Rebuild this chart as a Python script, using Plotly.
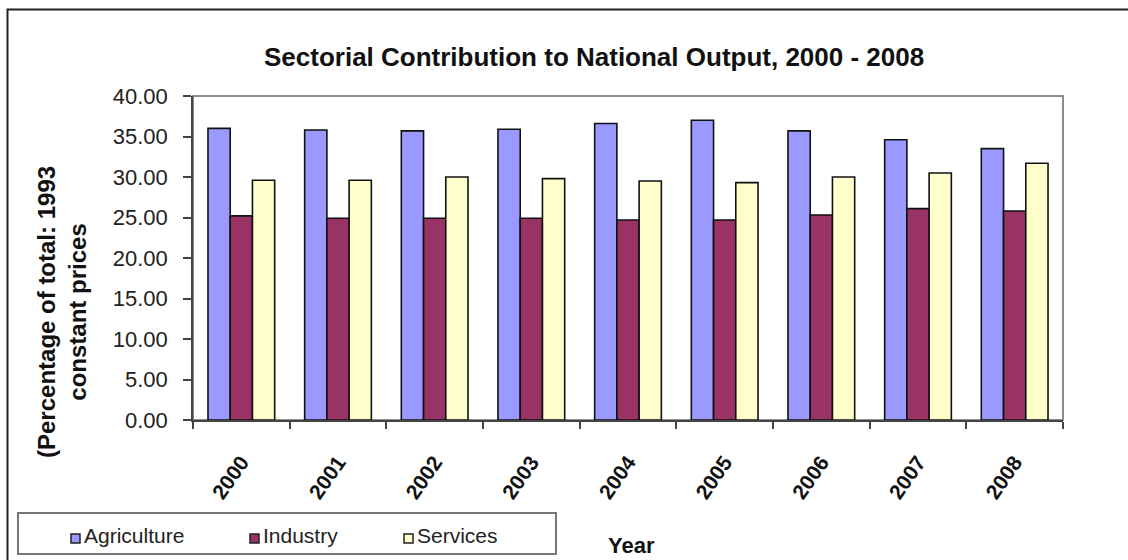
import plotly.graph_objects as go

# Sector shares of national output (% of total, 1993 constant prices)
years = ["2000", "2001", "2002", "2003", "2004", "2005", "2006", "2007", "2008"]
agriculture = [36.0, 35.8, 35.7, 35.9, 36.6, 37.0, 35.7, 34.6, 33.5]
industry = [25.2, 24.9, 24.9, 24.9, 24.7, 24.7, 25.3, 26.1, 25.8]
services = [29.6, 29.6, 30.0, 29.8, 29.5, 29.3, 30.0, 30.5, 31.7]

sectors = ["Agriculture", "Industry", "Services"]
colors = ["#9999FF", "#993366", "#FFFFCC"]
y_ticks = [0, 5, 10, 15, 20, 25, 30, 35, 40]

W, H = 1128, 560
L, R, T, B = 193, 65, 96, 140
PW, PH = W - L - R, H - T - B


def px_x(px):
    return (px - L) / PW


def px_y(py):
    return (H - B - py) / PH


FONT = "Liberation Sans, Arial, sans-serif"
EDGE = dict(color="#111111", width=1.6)

fig = go.Figure()
for name, vals, col in zip(sectors, [agriculture, industry, services], colors):
    fig.add_trace(go.Bar(name=name, x=years, y=vals,
                         marker=dict(color=col, line=EDGE)))

shapes = [
    # gray border of the plotting area
    dict(type="rect", xref="paper", yref="paper", x0=0, x1=1, y0=0, y1=1,
         line=dict(color="#8c8c8c", width=2), layer="below"),
    # outer chart frame
    dict(type="rect", xref="paper", yref="paper",
         x0=px_x(7.5), x1=px_x(1140), y0=px_y(580), y1=px_y(9.5),
         line=dict(color="#222222", width=2), layer="below"),
    # legend box
    dict(type="rect", xref="paper", yref="paper",
         x0=px_x(18), x1=px_x(556), y0=px_y(554), y1=px_y(513),
         line=dict(color="#777777", width=2), fillcolor="white", layer="above"),
]

annotations = [
    dict(text="<b>Sectorial Contribution to National Output, 2000 - 2008</b>",
         xref="paper", yref="paper", x=px_x(594), y=px_y(57),
         showarrow=False, font=dict(size=26, color="#111111"),
         xanchor="center", yanchor="middle"),
    dict(text="<b>(Percentage of total: 1993<br>constant prices</b>",
         xref="paper", yref="paper", x=px_x(62), y=px_y(312),
         showarrow=False, textangle=-90, font=dict(size=24, color="#111111"),
         xanchor="center", yanchor="middle"),
    dict(text="<b>Year</b>", xref="paper", yref="paper",
         x=px_x(631), y=px_y(545), showarrow=False,
         font=dict(size=22, color="#111111"),
         xanchor="center", yanchor="middle"),
]

# legend entries: small swatch followed by the series name
legend_swatch_x = [71, 250, 404]
for sx, name, col in zip(legend_swatch_x, sectors, colors):
    shapes.append(dict(type="rect", xref="paper", yref="paper",
                       x0=px_x(sx), x1=px_x(sx + 9), y0=px_y(543), y1=px_y(534),
                       line=dict(color="#222222", width=1.5), fillcolor=col,
                       layer="above"))
    annotations.append(dict(text=name, xref="paper", yref="paper",
                            x=px_x(sx + 11), y=px_y(535), showarrow=False,
                            xanchor="left", yanchor="middle",
                            font=dict(size=21, color="#222222")))

fig.update_layout(
    width=W, height=H, autosize=False,
    margin=dict(l=L, r=R, t=T, b=B, pad=0),
    paper_bgcolor="white", plot_bgcolor="white",
    barmode="group", bargap=0.31, bargroupgap=0,
    font=dict(family=FONT, color="#111111"),
    showlegend=False,
    xaxis=dict(
        type="category", tickson="boundaries", ticks="outside", ticklen=7,
        tickcolor="#444444", tickwidth=1.5,
        showline=True, linecolor="#444444", linewidth=1.5,
        showgrid=False, tickangle=-55, ticklabelstandoff=20,
        tickfont=dict(size=21, family=FONT, color="#111111", weight="bold"),
    ),
    yaxis=dict(
        range=[0, 40], tickvals=y_ticks, tickformat=".2f",
        ticks="outside", ticklen=8, tickcolor="#444444", tickwidth=1.5,
        showline=True, linecolor="#444444", linewidth=1.5,
        showgrid=False, zeroline=False, ticklabelstandoff=11,
        tickfont=dict(size=22, color="#222222"),
    ),
    shapes=shapes,
    annotations=annotations,
)

fig.write_html("out.html")
